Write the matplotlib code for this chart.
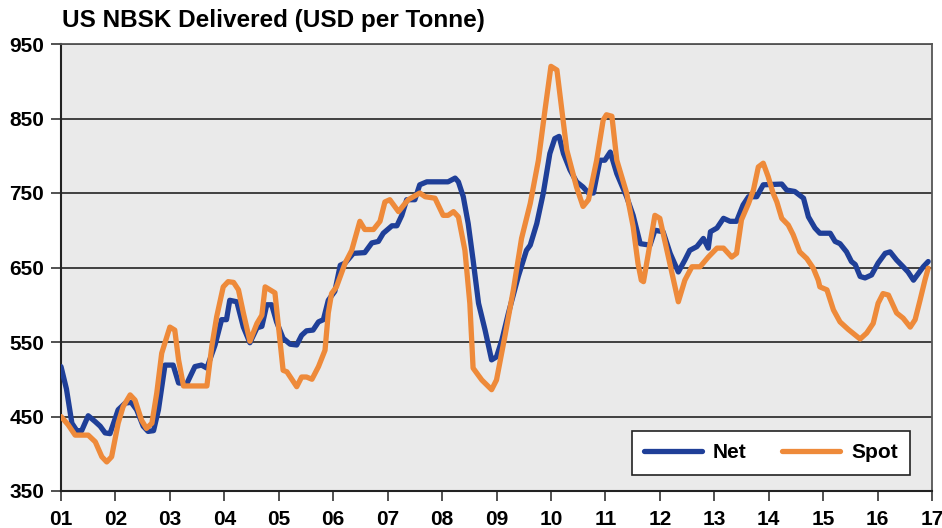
import matplotlib
matplotlib.use("Agg")
import matplotlib.pyplot as plt

plt.rcParams['font.family'] = ['Liberation Sans', 'DejaVu Sans']

title = "US NBSK Delivered (USD per Tonne)"
year_ticks = list(range(1, 18))
year_labels = [f"{y:02d}" for y in year_ticks]
y_ticks = [350, 450, 550, 650, 750, 850, 950]

net_t = [1.00, 1.10, 1.20, 1.29, 1.38, 1.50, 1.63, 1.72, 1.81, 1.90, 2.05, 2.18, 2.29, 2.39,
         2.51, 2.60, 2.70, 2.79, 2.91, 3.06, 3.16, 3.31, 3.46, 3.58, 3.68, 3.83, 3.95, 4.04,
         4.10, 4.23, 4.35, 4.47, 4.60, 4.69, 4.78, 4.87, 4.96, 5.08, 5.21, 5.33, 5.42, 5.51,
         5.63, 5.73, 5.82, 5.91, 6.03, 6.13, 6.22, 6.37, 6.58, 6.71, 6.83, 6.92, 7.08, 7.17,
         7.26, 7.35, 7.50, 7.59, 7.72, 8.11, 8.24, 8.30, 8.39, 8.48, 8.57, 8.67, 8.79, 8.91,
         9.00, 9.10, 9.22, 9.40, 9.55, 9.62, 9.74, 9.86, 9.98, 10.07, 10.15, 10.23, 10.35,
         10.47, 10.59, 10.69, 10.78, 10.90, 10.99, 11.09, 11.21, 11.39, 11.51, 11.64, 11.82,
         11.91, 12.06, 12.19, 12.34, 12.46, 12.55, 12.68, 12.80, 12.89, 12.93, 13.05, 13.17,
         13.29, 13.41, 13.53, 13.63, 13.78, 13.90, 14.24, 14.33, 14.48, 14.64, 14.73, 14.85,
         14.94, 15.13, 15.22, 15.31, 15.43, 15.52, 15.59, 15.68, 15.77, 15.89, 16.01, 16.14,
         16.23, 16.35, 16.47, 16.56, 16.66, 16.75, 16.84, 16.93]
net_v = [517, 487, 441, 431, 431, 451, 443, 437, 428, 427, 459, 468, 469, 459,
         437, 430, 431, 459, 519, 519, 495, 494, 517, 519, 515, 546, 580, 580,
         606, 604, 570, 549, 569, 571, 600, 600, 577, 555, 547, 546, 559, 565,
         566, 577, 580, 606, 618, 653, 656, 669, 670, 683, 685, 696, 706, 706,
         720, 741, 741, 761, 765, 765, 770, 765, 745, 709, 660, 602, 566, 526,
         530, 553, 589, 638, 673, 680, 709, 750, 803, 823, 826, 803, 781,
         765, 758, 750, 750, 794, 794, 805, 776, 745, 720, 682, 680,
         700, 698, 669, 644, 660, 673, 678, 689, 676, 698, 703, 716,
         712, 712, 734, 745, 745, 761, 762, 754, 752, 743, 718, 703,
         696, 696, 685, 682, 671, 658, 654, 638, 636, 640, 656, 669,
         671, 660, 651, 644, 633, 642, 651, 658]

spot_t = [1.00, 1.13, 1.26, 1.50, 1.63, 1.75, 1.84, 1.93, 2.05, 2.14, 2.27, 2.36, 2.48, 2.57,
          2.67, 2.76, 2.85, 3.00, 3.09, 3.16, 3.25, 3.68, 3.77, 3.86, 3.98, 4.07, 4.17, 4.26,
          4.35, 4.47, 4.60, 4.69, 4.75, 4.93, 5.08, 5.15, 5.33, 5.42, 5.51, 5.61, 5.73, 5.85,
          5.91, 5.97, 6.06, 6.22, 6.34, 6.49, 6.58, 6.74, 6.86, 6.95, 7.04, 7.20, 7.32, 7.38,
          7.59, 7.69, 7.87, 8.02, 8.11, 8.21, 8.30, 8.42, 8.51, 8.57, 8.73, 8.91, 9.00, 9.16,
          9.31, 9.46, 9.62, 9.77, 9.89, 10.00, 10.11, 10.20, 10.29, 10.47, 10.59, 10.69, 10.84,
          10.96, 11.02, 11.12, 11.21, 11.39, 11.51, 11.60, 11.66, 11.70, 11.79, 11.91, 12.00,
          12.16, 12.34, 12.46, 12.59, 12.74, 12.89, 13.05, 13.17, 13.32, 13.41, 13.50, 13.63,
          13.72, 13.81, 13.90, 13.99, 14.08, 14.15, 14.24, 14.36, 14.45, 14.57, 14.70, 14.82,
          14.91, 14.94, 15.07, 15.19, 15.31, 15.46, 15.68, 15.80, 15.92, 16.01, 16.10, 16.20,
          16.35, 16.47, 16.60, 16.69, 16.78, 16.87, 16.93]
spot_v = [450, 439, 425, 425, 416, 396, 389, 396, 441, 463, 479, 472, 445, 434,
          441, 482, 535, 570, 566, 526, 491, 491, 544, 584, 624, 631, 630, 620,
          589, 551, 575, 586, 624, 616, 512, 510, 490, 503, 503, 500, 517, 539,
          589, 615, 624, 656, 673, 712, 701, 701, 712, 738, 741, 725, 736, 741,
          750, 745, 743, 720, 720, 725, 718, 673, 602, 515, 499, 486, 499, 560,
          620, 689, 736, 794, 861, 920, 915, 861, 808, 758, 732, 741, 794,
          848, 855, 853, 794, 750, 705, 655, 633, 631, 669, 720, 716,
          663, 604, 633, 651, 651, 664, 676, 676, 664, 669, 714, 736,
          754, 785, 790, 772, 750, 738, 716, 707, 694, 671, 662, 649,
          633, 624, 620, 593, 577, 567, 554, 562, 575, 602, 615, 613,
          589, 582, 570, 580, 606, 633, 649]

net_color = "#1f3f98"
spot_color = "#ee8a3a"

fig = plt.figure(figsize=(9.42, 5.28), dpi=100)
ax = fig.add_axes([61/942, 1 - 491/528, (932 - 61)/942, (491 - 44)/528])
ax.set_facecolor("#eaeaea")

ax.plot(net_t, net_v, color=net_color, lw=3.8, label="Net", solid_joinstyle='round', solid_capstyle='round', zorder=3)
ax.plot(spot_t, spot_v, color=spot_color, lw=3.8, label="Spot", solid_joinstyle='round', solid_capstyle='round', zorder=4)

ax.set_xlim(1, 17)
ax.set_ylim(350, 950)
ax.set_yticks(y_ticks)
ax.set_yticklabels([str(v) for v in y_ticks], fontsize=15, fontweight='bold')
ax.set_xticks(year_ticks)
ax.set_xticklabels(year_labels, fontsize=15, fontweight='bold')
ax.tick_params(axis='y', length=7, width=1.2, color='#333333', pad=5)
ax.tick_params(axis='x', length=7, width=1.2, color='#333333', pad=7)
ax.yaxis.grid(True, color='#333333', lw=1.3)
ax.set_axisbelow(True)

for side in ['left', 'bottom']:
    ax.spines[side].set_color('#222222')
    ax.spines[side].set_linewidth(1.5)
for side in ['top', 'right']:
    ax.spines[side].set_color('#555555')
    ax.spines[side].set_linewidth(1.3)

leg = ax.legend(loc='lower right', bbox_to_anchor=(0.975, 0.036), ncol=2, frameon=True,
                fancybox=False, edgecolor='#222222', framealpha=1, borderaxespad=0,
                prop={'weight': 'bold', 'size': 15}, handlelength=2.75, columnspacing=1.7,
                handletextpad=0.55, borderpad=0.6)
leg.get_frame().set_linewidth(1.2)

fig.text(62/942, 1 - 21/528, title, fontsize=17.5, fontweight='bold', ha='left', va='center')

fig.savefig("out.png", dpi=100)
